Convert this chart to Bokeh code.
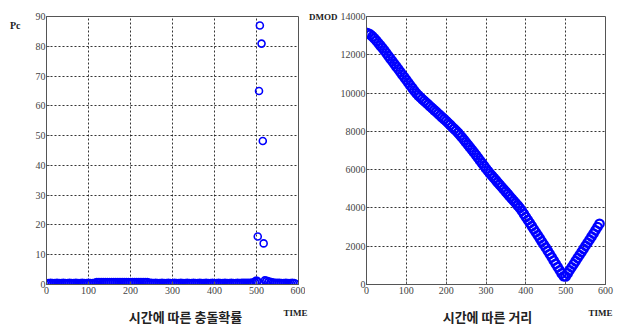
from bokeh.plotting import figure
from bokeh.layouts import row, column
from bokeh.models import Range1d, FixedTicker, LinearAxis
from bokeh.core.properties import value
from bokeh.embed import file_html
from bokeh.resources import INLINE

# ---- Left chart: collision probability over time ----
pc_time = [0, 5, 10, 15, 20, 25, 30, 35, 40, 45, 50, 55, 60, 65, 70, 75, 80, 85, 90, 95,
           100, 105, 110, 115, 120, 125, 130, 135, 140, 145, 150, 155, 160, 165, 170, 175, 180, 185, 190, 195,
           200, 205, 210, 215, 220, 225, 230, 235, 240, 245, 250, 255, 260, 265, 270, 275, 280, 285, 290, 295,
           300, 305, 310, 315, 320, 325, 330, 335, 340, 345, 350, 355, 360, 365, 370, 375, 380, 385, 390, 395,
           400, 405, 410, 415, 420, 425, 430, 435, 440, 445, 450, 455, 460, 465, 470, 475, 480, 485, 490, 495,
           500, 525, 530, 535, 540, 545, 550, 555, 560, 565, 570, 575, 580, 585, 590]
pc_vals = [0.2, 0.2, 0.21, 0.2, 0.2, 0.21, 0.2, 0.2, 0.21, 0.2, 0.2, 0.21, 0.2, 0.2, 0.21, 0.2, 0.2, 0.21, 0.2, 0.2,
           0.21, 0.2, 0.2, 0.21, 0.5, 0.51, 0.5, 0.52, 0.51, 0.5, 0.52, 0.51, 0.5, 0.52, 0.51, 0.5, 0.52, 0.51, 0.5, 0.51,
           0.5, 0.52, 0.51, 0.5, 0.51, 0.5, 0.51, 0.5, 0.48, 0.25, 0.21, 0.2, 0.21, 0.2, 0.2, 0.21, 0.2, 0.2, 0.21, 0.2,
           0.2, 0.21, 0.2, 0.2, 0.21, 0.2, 0.2, 0.21, 0.2, 0.2, 0.21, 0.2, 0.2, 0.21, 0.2, 0.2, 0.21, 0.2, 0.2, 0.21,
           0.2, 0.2, 0.21, 0.2, 0.2, 0.21, 0.2, 0.2, 0.21, 0.2, 0.2, 0.21, 0.2, 0.21, 0.22, 0.23, 0.25, 0.28, 0.35, 0.5,
           1.0, 0.9, 0.7, 0.5, 0.35, 0.25, 0.22, 0.21, 0.2, 0.2, 0.21, 0.2, 0.2, 0.21, 0.2]
peak_time = [501, 503, 506, 508, 512, 515, 517, 520]
peak_vals = [0.9, 16.1, 65.0, 87.0, 80.9, 48.2, 13.8, 1.4]

# ---- Right chart: distance over time ----
d_time = [0, 5, 10, 15, 20, 25, 30, 35, 40, 45, 50, 55, 60, 65, 70, 75, 80, 85, 90, 95,
          100, 105, 110, 115, 120, 125, 130, 135, 140, 145, 150, 155, 160, 165, 170, 175, 180, 185, 190, 195,
          200, 205, 210, 215, 220, 225, 230, 235, 240, 245, 250, 255, 260, 265, 270, 275, 280, 285, 290, 295,
          300, 305, 310, 315, 320, 325, 330, 335, 340, 345, 350, 355, 360, 365, 370, 375, 380, 385, 390, 395,
          400, 405, 410, 415, 420, 425, 430, 435, 440, 445, 450, 455, 460, 465, 470, 475, 480, 485, 490, 495,
          500, 505, 510, 515, 520, 525, 530, 535, 540, 545, 550, 555, 560, 565, 570, 575, 580, 585]
d_vals = [13150, 13110, 13050, 12960, 12850, 12730, 12600, 12480, 12350, 12220, 12080, 11940, 11800, 11660, 11520, 11380, 11240, 11100, 10960, 10820,
          10680, 10540, 10400, 10260, 10120, 9990, 9880, 9780, 9680, 9590, 9490, 9400, 9300, 9210, 9110, 9020, 8920, 8830, 8730, 8640,
          8540, 8440, 8340, 8230, 8130, 8030, 7920, 7800, 7680, 7550, 7420, 7290, 7160, 7030, 6900, 6760, 6620, 6480, 6340, 6200,
          6060, 5930, 5800, 5680, 5560, 5440, 5320, 5200, 5080, 4960, 4840, 4720, 4600, 4480, 4360, 4240, 4120, 4000, 3850, 3690,
          3530, 3370, 3210, 3050, 2890, 2730, 2570, 2410, 2250, 2090, 1930, 1760, 1590, 1420, 1250, 1080, 910, 740, 580, 430,
          420, 580, 740, 900, 1060, 1220, 1380, 1540, 1700, 1860, 2020, 2180, 2340, 2500, 2660, 2830, 3000, 3170]

x_ticks = [0, 100, 200, 300, 400, 500, 600]
pc_ticks = [0, 10, 20, 30, 40, 50, 60, 70, 80, 90]
d_ticks = [0, 2000, 4000, 6000, 8000, 10000, 12000, 14000]

left_title = "시간에 따른 충돌확률"
right_title = "시간에 따른 거리"
x_name = "TIME"
pc_name = "Pc"
d_name = "DMOD"

BLUE = "#0000ff"
TICK_FONT = "Liberation Sans Narrow"
LAB_FONT = "Liberation Serif"
KR_FONT = "Noto Sans CJK KR"


def style(p, yticks):
    p.xaxis.ticker = FixedTicker(ticks=x_ticks)
    p.yaxis.ticker = FixedTicker(ticks=yticks)
    for ax in (p.xaxis, p.yaxis):
        ax.major_label_text_font = TICK_FONT
        ax.major_label_text_font_size = "10px"
        ax.major_label_text_color = "#444444"
        ax.axis_line_color = "#555555"
        ax.major_tick_line_color = "#555555"
        ax.major_tick_in = 3
        ax.major_tick_out = 0
        ax.minor_tick_line_color = None
        ax.major_label_standoff = 2
    p.yaxis.major_label_standoff = 1
    p.xgrid.ticker = FixedTicker(ticks=x_ticks)
    p.ygrid.ticker = FixedTicker(ticks=yticks)
    for g in (p.xgrid, p.ygrid):
        g.grid_line_color = "#111111"
        g.grid_line_dash = "2 2"
        g.grid_line_width = 1
        g.grid_line_alpha = 0.85
    p.outline_line_color = "#555555"
    p.outline_line_width = 1
    p.background_fill_color = "white"
    p.border_fill_color = "white"


def name_axis(p, tick, name, standoff, size):
    ax = LinearAxis(ticker=FixedTicker(ticks=[tick]), major_label_overrides={tick: name},
                    axis_line_color=None, major_tick_line_color=None, minor_tick_line_color=None,
                    major_tick_in=0, major_tick_out=0, major_label_standoff=standoff,
                    major_label_text_font=LAB_FONT, major_label_text_font_style="bold",
                    major_label_text_font_size=size, major_label_text_color="#222222")
    p.add_layout(ax, "left")


def caption(width, title, title_x, time_x):
    b = figure(width=width, height=20, output_backend="svg", toolbar_location=None,
               x_range=Range1d(0, width), y_range=Range1d(0, 20),
               x_axis_type=None, y_axis_type=None, min_border=0)
    b.outline_line_color = None
    b.xgrid.visible = False
    b.ygrid.visible = False
    b.text(x=[title_x], y=[10], text=[title], text_font=value(KR_FONT), text_font_style="bold",
           text_font_size="13px", text_color="#222222", text_align="center", text_baseline="middle")
    b.text(x=[time_x], y=[14], text=[x_name], text_font=value(LAB_FONT), text_font_style="bold",
           text_font_size="9px", text_color="#222222", text_align="right", text_baseline="middle")
    return b


# Left figure: 305 x 306, frame 46..298 x 14..288
p1 = figure(width=305, height=306, output_backend="svg", toolbar_location=None,
            x_range=Range1d(0, 600), y_range=Range1d(0, 90),
            min_border_left=46, min_border_right=7, min_border_top=14, min_border_bottom=18)
style(p1, pc_ticks)
p1.scatter(pc_time, pc_vals, marker="circle", size=8.5, fill_color=None,
           line_color=BLUE, line_width=2.0)
p1.scatter(peak_time, peak_vals, marker="circle", size=7, fill_color=None,
           line_color=BLUE, line_width=1.6)
name_axis(p1, 87, pc_name, 12, "10px")

# Right figure: 313 x 306, frame 366..605 x 16..284
p2 = figure(width=313, height=306, output_backend="svg", toolbar_location=None,
            x_range=Range1d(0, 600), y_range=Range1d(0, 14000),
            min_border_left=61, min_border_right=13, min_border_top=16, min_border_bottom=22)
style(p2, d_ticks)
p2.scatter(d_time, d_vals, marker="circle", size=8.5, fill_color=None,
           line_color=BLUE, line_width=2.2)
name_axis(p2, 14000, d_name, 0, "9px")

b1 = caption(310, left_title, 185, 307)
b2 = caption(308, right_title, 177, 302)

layout = column(row(p1, p2), row(b1, b2))
open("out.html", "w").write(file_html(layout, INLINE))
